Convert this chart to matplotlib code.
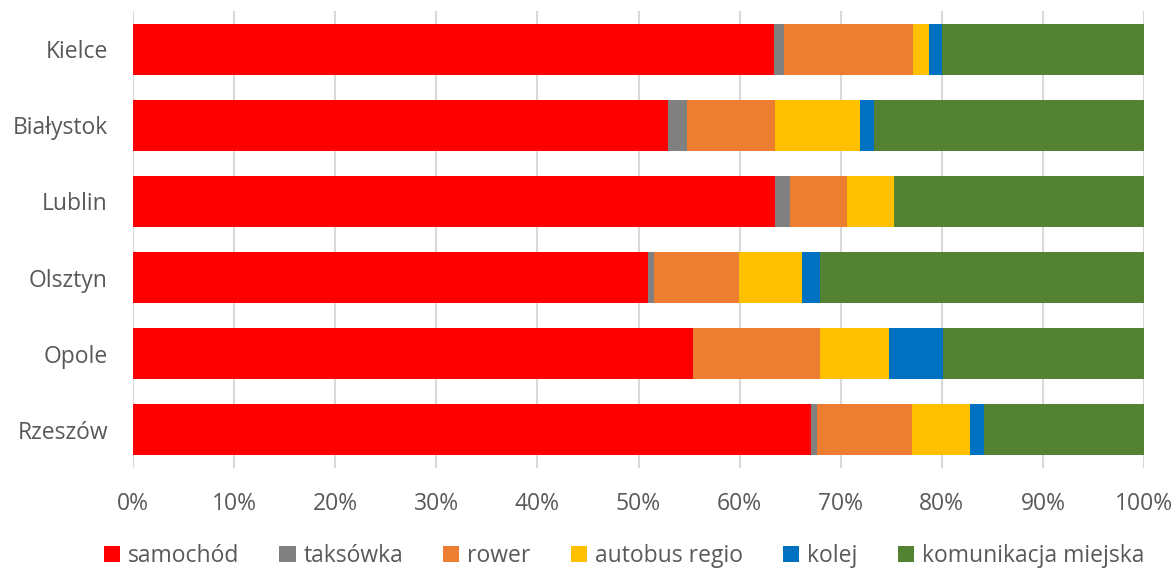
import matplotlib
matplotlib.use("Agg")
import matplotlib.pyplot as plt
import numpy as np

cities = ["Kielce", "Białystok", "Lublin", "Olsztyn", "Opole", "Rzeszów"]
series_names = ["samochód", "taksówka", "rower", "autobus regio", "kolej", "komunikacja miejska"]
samochod = [63.4, 52.9, 63.5, 50.9, 55.4, 67.1]
taksowka = [0.95, 1.9, 1.5, 0.6, 0.0, 0.6]
rower = [12.85, 8.7, 5.6, 8.4, 12.6, 9.35]
autobus = [1.5, 8.4, 4.7, 6.3, 6.8, 5.75]
kolej = [1.3, 1.4, 0.0, 1.8, 5.3, 1.4]
komunikacja = [20.0, 26.7, 24.7, 32.0, 19.9, 15.8]
colors = ["#FF0000", "#808080", "#ED7D31", "#FFC000", "#0070C0", "#548235"]
xticks = [0, 10, 20, 30, 40, 50, 60, 70, 80, 90, 100]

plt.rcParams['font.family'] = ['Open Sans', 'DejaVu Sans']

fig = plt.figure(figsize=(11.76, 5.70), dpi=100)
ax = fig.add_axes([133/1176, 1-468/570, (1144-133)/1176, (468-11)/570])

data = [samochod, taksowka, rower, autobus, kolej, komunikacja]
y = np.arange(len(cities))
left = np.zeros(len(cities))
for name, vals, c in zip(series_names, data, colors):
    v = np.array(vals)
    ax.barh(y, v, left=left, height=0.67, color=c, label=name, zorder=3)
    left += v

ax.set_ylim(len(cities)-0.5, -0.5)
ax.set_xlim(0, 100)
ax.set_yticks(y)
ax.set_yticklabels(cities)
ax.set_xticks(xticks)
ax.set_xticklabels([f"{t}%" for t in xticks])
ax.tick_params(axis='both', length=0, labelsize=16.5, colors="#595959")
ax.tick_params(axis='x', pad=17)
ax.tick_params(axis='y', pad=18)
ax.grid(axis='x', color="#D9D9D9", linewidth=1.5, zorder=0)
for s in ax.spines.values():
    s.set_visible(False)

fig.legend(loc='center', bbox_to_anchor=(624/1176, 1-556/570), ncol=6, frameon=False,
           fontsize=16.5, handlelength=0.7, handleheight=0.7, handletextpad=0.35,
           columnspacing=1.75, labelcolor="#595959", borderaxespad=0, borderpad=0)

fig.savefig("out.png", dpi=100)
